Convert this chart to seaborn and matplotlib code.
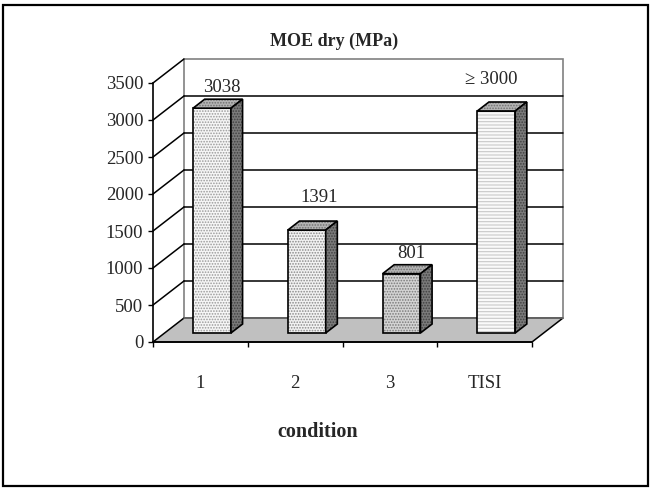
import matplotlib
matplotlib.use("Agg")
import matplotlib.pyplot as plt
from matplotlib.patches import Polygon, Rectangle
import pandas as pd
import seaborn as sns

# ---- data ----
categories = ["1", "2", "3", "TISI"]
moe_values = [3038, 1391, 801, 3000]
value_labels = ["3038", "1391", "801", "\u2265 3000"]
y_ticks = [0, 500, 1000, 1500, 2000, 2500, 3000, 3500]

# ---- layout (pixels) ----
W, H = 656, 493
AX_L, AX_R, AX_B, AX_T = 153, 532, 342, 83        # front plane of the plot box
DEPTH_PX = (31, 24)                                  # oblique offset of the back wall
BAR_DEPTH = (0.375, 0.75)                            # bar front / back as fraction of depth
label_nudges = [(-2, 12), (1, 24), (-2, 11), (-17, 23)]  # pixel nudges of value labels

sns.set_style("white")
plt.rcParams["font.family"] = ["Liberation Serif", "DejaVu Serif"]
plt.rcParams["hatch.linewidth"] = 0.8

fig = plt.figure(figsize=(W / 100, H / 100), dpi=100)
ax = fig.add_axes([AX_L / W, (H - AX_B) / H, (AX_R - AX_L) / W, (AX_B - AX_T) / H])
ax.set_xlim(-0.5, 3.5)
ax.set_ylim(0, 3500)
ax.patch.set_alpha(0)

px_per_cat = (AX_R - AX_L) / 4
px_per_unit = (AX_B - AX_T) / 3500
DX = DEPTH_PX[0] / px_per_cat
DY = DEPTH_PX[1] / px_per_unit

x0, x1 = -0.5, 3.5
wall_grey = "#808080"

# back wall
ax.add_patch(Polygon([(x0 + DX, DY), (x1 + DX, DY), (x1 + DX, 3500 + DY), (x0 + DX, 3500 + DY)],
                     closed=True, facecolor="white", edgecolor=wall_grey, lw=1.2,
                     clip_on=False, zorder=0.5))
for t in y_ticks[1:-1]:
    ax.plot([x0 + DX, x1 + DX], [t + DY, t + DY], color="black", lw=1.1,
            clip_on=False, zorder=1)
# side wall: tick diagonals
for t in y_ticks[1:]:
    ax.plot([x0, x0 + DX], [t, t + DY], color="black", lw=1.1, clip_on=False, zorder=1)

# floor
ax.add_patch(Polygon([(x0, 0), (x1, 0), (x1 + DX, DY), (x0 + DX, DY)], closed=True,
                     facecolor="#c0c0c0", edgecolor="black", lw=1.1,
                     clip_on=False, zorder=1.2))
ax.plot([x0 + DX, x1 + DX], [DY, DY], color="#707070", lw=1.2, clip_on=False, zorder=1.3)

# bars (front faces) drawn by seaborn
df = pd.DataFrame({"condition": categories, "moe": moe_values})
n_before = len(ax.patches)
sns.barplot(data=df, x="condition", y="moe", width=0.4, color="white",
            edgecolor="black", linewidth=1.2, ax=ax, zorder=3)
bars = ax.patches[n_before:]
ax.set_xlim(-0.5, 3.5)
ax.set_ylim(0, 3500)

fx, fy = DX * BAR_DEPTH[0], DY * BAR_DEPTH[0]
ddx = DX * (BAR_DEPTH[1] - BAR_DEPTH[0])
ddy = DY * (BAR_DEPTH[1] - BAR_DEPTH[0])


def face(points, base, hatch, hatch_col, z):
    pts = [(px + fx, py + fy) for px, py in points]
    ax.add_patch(Polygon(pts, closed=True, facecolor=base, edgecolor="none",
                         clip_on=False, zorder=z))
    if hatch:
        ax.add_patch(Polygon(pts, closed=True, facecolor="none", edgecolor=hatch_col,
                             hatch=hatch, lw=0, clip_on=False, zorder=z + 0.01))
    ax.add_patch(Polygon(pts, closed=True, facecolor="none", edgecolor="black",
                         lw=1.2, joinstyle="miter", clip_on=False, zorder=z + 0.02))


front_styles = [("#f6f6f6", "......", "#9a9a9a"),
                ("#f2f2f2", "......", "#8a8a8a"),
                ("#d4d4d4", "......", "#7a7a7a"),
                ("#fafafa", "-----", "#c8c8c8")]

for i, bar in enumerate(bars):
    bx0 = bar.get_x()
    bw = bar.get_width()
    bh = bar.get_height()
    bx1 = bx0 + bw
    bar.set_visible(False)
    z = 3 + i
    base, hatch, hcol = front_styles[i]
    face([(bx0, 0), (bx1, 0), (bx1, bh), (bx0, bh)], base, hatch, hcol, z)
    face([(bx0, bh), (bx1, bh), (bx1 + ddx, bh + ddy), (bx0 + ddx, bh + ddy)],
         "#b4b4b4", "......", "#707070", z + 0.1)
    face([(bx1, 0), (bx1 + ddx, ddy), (bx1 + ddx, bh + ddy), (bx1, bh)],
         "#7a7a7a", "......", "#404040", z + 0.2)

    cx = bx0 + bw / 2 + DX * BAR_DEPTH[1]
    ax.annotate(value_labels[i], xy=(cx, moe_values[i] + DY * BAR_DEPTH[1]),
                xytext=label_nudges[i], textcoords="offset pixels",
                ha="center", va="center", fontsize=13.5, annotation_clip=False,
                zorder=10)

# axes, ticks and labels
for s in ["top", "right"]:
    ax.spines[s].set_visible(False)
for s in ["left", "bottom"]:
    ax.spines[s].set_color("black")
    ax.spines[s].set_linewidth(1.2)
    ax.spines[s].set_zorder(2)
ax.set_yticks(y_ticks)
ax.set_yticklabels([str(t) for t in y_ticks])
ax.tick_params(axis="y", direction="out", length=3.6, width=1, color="black",
               pad=3.5, labelsize=13.5, left=True)
ax.set_xticks([-0.5, 0.5, 1.5, 2.5, 3.5])
ax.set_xticklabels([])
ax.tick_params(axis="x", which="major", direction="out", length=3.6, width=1,
               color="black", bottom=True)
ax.set_xticks([0, 1, 2, 3], minor=True)
ax.set_xticklabels(categories, minor=True)
ax.tick_params(axis="x", which="minor", length=0, pad=24, labelsize=13.5)
ax.set_xlabel("")
ax.set_ylabel("")

fig.text(334 / W, 1 - 41 / H, "MOE dry (MPa)", ha="center", va="center",
         fontsize=13, fontweight="bold")
fig.text(318 / W, 1 - 432 / H, "condition", ha="center", va="center",
         fontsize=14.5, fontweight="bold")

# chart frame
fig.add_artist(Rectangle((3 / W, 1 - 486 / H), (648 - 3) / W, (486 - 5) / H,
                         transform=fig.transFigure, facecolor="none",
                         edgecolor="black", lw=1.6))

fig.savefig("out.png", dpi=100)
